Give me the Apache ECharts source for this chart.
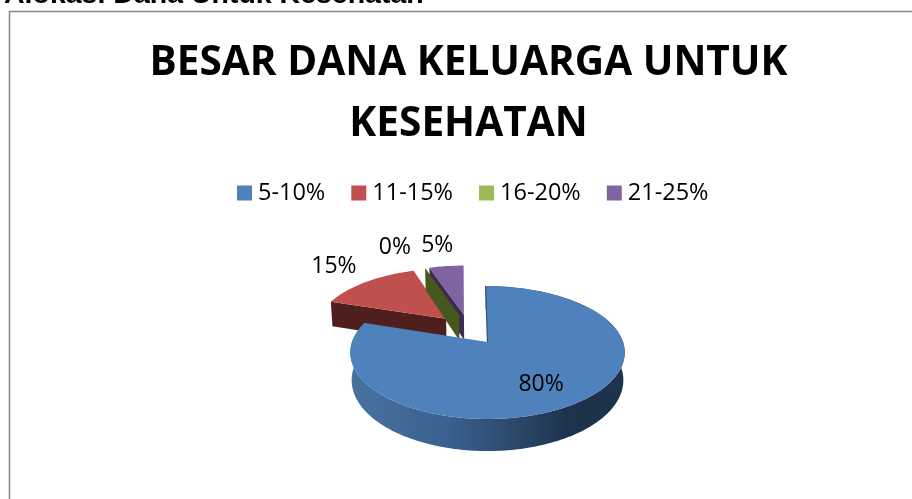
<!DOCTYPE html>
<html><head><meta charset="utf-8">
<style>html,body{margin:0;padding:0;background:#fff;overflow:hidden}#c{width:912px;height:499px}</style>
<script src="https://cdn.jsdelivr.net/npm/echarts@6/dist/echarts.min.js"></script>
</head><body><div id="c"></div>
<script>
const categories = ['5-10%', '11-15%', '16-20%', '21-25%'];
const values = [80, 15, 0, 5];
const chartTitle = 'BESAR DANA KELUARGA UNTUK\nKESEHATAN';
const pageHeading = 'Alokasi Dana Untuk Kesehatan';

const topColors = ['#4f81bd', '#c0504d', '#9bbb59', '#8064a2'];
const wallColors = ['#2f5080', '#4f1f1d', '#47581f', '#3a2c52'];
const paintOrder = [4, 1, 3, 2];       // z of each slice, back to front
const FONT = '"Open Sans"';

// tilted-disc projection
const X0 = 487.5, Y0 = 342, R = 135.5, B = 64.8, K = 0.158, EXPLODE = 0.25, DEPTH = 27, SHRINK = 0.99;
const total = values.reduce((a, b) => a + b, 0);
const starts = values.map((_, i) => values.slice(0, i).reduce((a, b) => a + b, 0) / total * 2 * Math.PI);

function project(u, v) {
  const w = 1 + K * v;
  const skew = 3.2 * Math.max(0, v - 0.44) / 0.95;
  return [X0 + R * u / w - skew, Y0 - B * v / w];
}
function lower(p, v) {
  const w = 1 + K * v;
  return [X0 + (p[0] - X0) * SHRINK, p[1] + DEPTH / w];
}
// plane coordinates relative to the first slice's exploded apex
const mid0 = starts[0] + values[0] / total * Math.PI;
const ou = -EXPLODE * Math.sin(mid0), ov = -EXPLODE * Math.cos(mid0);

function labelPoint(i) {
  const mid = starts[i] + values[i] / total * Math.PI;
  const s = Math.sin(mid), c = Math.cos(mid);
  const au = ou + EXPLODE * s, av = ov + EXPLODE * c;
  const f = [0.62, 1.17, 1.42, 1.33][i];
  const nudge = [[0, 7], [-20, -10], [-18, -4], [-4, -7]][i];
  const p = project(au + f * s, av + f * c);
  return [p[0] + nudge[0], p[1] + nudge[1]];
}

function renderSlice(i) {
  return function (params, api) {
    const value = api.value(0);
    const a0 = starts[i], a1 = a0 + value / total * 2 * Math.PI, mid = (a0 + a1) / 2;
    const au = ou + EXPLODE * Math.sin(mid), av = ov + EXPLODE * Math.cos(mid);
    const apex = project(au, av);
    const n = Math.max(2, Math.ceil((a1 - a0) / 0.02));
    const pts = [], low = [];
    for (let t = 0; t <= n; t++) {
      const a = a0 + (a1 - a0) * t / n;
      const u = au + Math.sin(a), v = av + Math.cos(a);
      const p = project(u, v);
      pts.push(p);
      low.push(lower(p, v));
    }
    const children = [];
    const apexLow = lower(apex, av);
    if (i === 0) {
      children.push({
        type: 'polygon', z2: 1,
        shape: { points: pts.concat(low.slice().reverse()) },
        style: {
          fill: new echarts.graphic.LinearGradient(0, 0, 1, 0, [
            { offset: 0, color: '#48739f' },
            { offset: 0.35, color: '#3a6190' },
            { offset: 0.62, color: '#2a4768' },
            { offset: 0.8, color: '#1d324b' },
            { offset: 1, color: '#1d324b' }
          ])
        }
      });
      children.push({
        type: 'polyline', z2: 3,
        shape: { points: [pts[0], apex] },
        style: { stroke: wallColors[0], lineWidth: 1.2, fill: null }
      });
    } else {
      children.push({
        type: 'polygon', z2: 1,
        shape: { points: [pts[0], apex, apexLow, low[0]] },
        style: { fill: wallColors[i] }
      });
    }
    if (value > 0) {
      children.push({
        type: 'polygon', z2: 2,
        shape: { points: [apex].concat(pts) },
        style: { fill: topColors[i] }
      });
    }
    const lp = labelPoint(i);
    children.push({
      type: 'text', z2: 10,
      style: {
        text: value + '%', x: lp[0], y: lp[1], align: 'center', verticalAlign: 'middle',
        fontFamily: FONT, fontSize: 23, fill: '#000'
      }
    });
    return { type: 'group', children: children };
  };
}

const chart = echarts.init(document.getElementById('c'), null, { renderer: 'canvas' });
chart.setOption({
  animation: false,
  title: [
    { text: pageHeading, left: 4, top: -19, padding: 0,
      textStyle: { fontFamily: '"Liberation Sans"', fontSize: 28.5, fontWeight: 'bold', color: '#000' } },
    { text: chartTitle, left: 468.5, top: 33, padding: 0, textAlign: 'center',
      textStyle: { fontFamily: FONT, fontSize: 40.6, fontWeight: 'bold', color: '#000', lineHeight: 61, align: 'center' } }
  ],
  legend: {
    left: 237, top: 181, padding: 0, itemWidth: 15, itemHeight: 15, itemGap: 26, icon: 'rect',
    data: categories, selectedMode: false,
    textStyle: { fontFamily: FONT, fontSize: 23.5, color: '#000', padding: [0, 0, 0, 1] }
  },
  graphic: [{
    type: 'rect', silent: true, z: -1,
    shape: { x: 9.5, y: 11.5, width: 1000, height: 600 },
    style: { fill: '#fff', stroke: '#868686', lineWidth: 1.5 }
  }],
  series: categories.map((name, i) => ({
    type: 'custom', name: name, coordinateSystem: 'none', z: paintOrder[i], silent: true,
    itemStyle: { color: topColors[i] },
    renderItem: renderSlice(i), clip: false,
    data: [[values[i]]]
  }))
});
</script></body></html>
